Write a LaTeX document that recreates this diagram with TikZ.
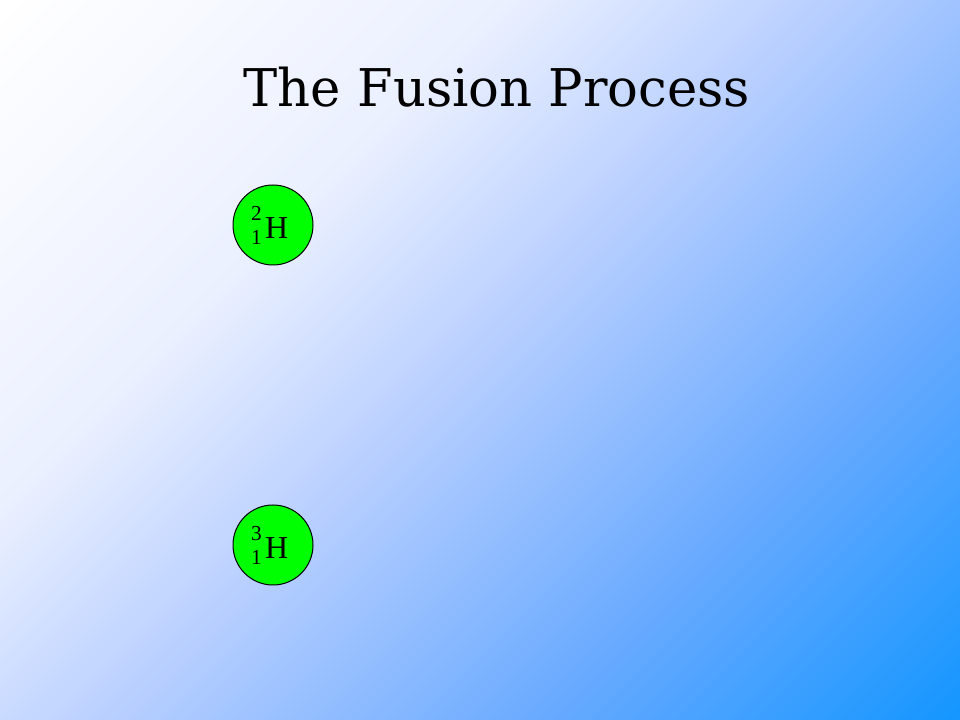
\documentclass[tikz,border=0pt]{standalone}
\usepackage{fontspec}
\setmainfont{Liberation Serif}
\newfontfamily\titlefont{DejaVu Serif}
\usepackage{tikz}
\usetikzlibrary{positioning}
\definecolor{slidewhite}{RGB}{255,255,255}
\definecolor{slidepale}{RGB}{235,240,255}
\definecolor{slidemid}{RGB}{182,206,255}
\definecolor{slidedeep}{RGB}{105,170,255}
\definecolor{slideblue}{RGB}{20,150,255}
\definecolor{nucleusgreen}{RGB}{0,255,0}
% diagonal slide background, white top left to blue bottom right
\pgfdeclareverticalshading{slidebg}{100bp}{color(0bp)=(slideblue); color(14.64bp)=(slideblue);
	color(32.32bp)=(slidedeep); color(50bp)=(slidemid); color(64.14bp)=(slidepale);
	color(85.36bp)=(slidewhite); color(100bp)=(slidewhite)}
% mass number over atomic number, then the symbol
\newcommand{\nuclide}[3]{{\fontsize{16pt}{16pt}\selectfont\raisebox{13.5pt}{\rlap{#1}}\raisebox{-4.5pt}{#2}}\kern2.5pt#3\kern5pt}

\begin{document}
\begin{tikzpicture}[
					x=0.75pt, y=0.75pt,
					nucleus/.style={
						circle, draw=black, line width=0.75pt, fill=nucleusgreen,
						minimum size=60pt, inner sep=0pt,
						font=\fontsize{24pt}{24pt}\selectfont
					},
					heading/.style={
						anchor=base, inner sep=0pt, xscale=0.985,
						font=\titlefont\fontsize{39pt}{39pt}\selectfont
					}
					]
					% Nền chuyển màu chéo
					\shade[shading=slidebg, shading angle=45] (0,0) rectangle (960,720);
					\useasboundingbox (0,0) rectangle (960,720);
					\node[heading] (title) at (497,613) {The Fusion Process};
					% Hai hạt nhân đồng vị hiđrô
					\node[nucleus] (deuterium) at (273,495) {\nuclide{2}{1}{H}};
					\node[nucleus] (tritium)   at (273,175) {\nuclide{3}{1}{H}};
				\end{tikzpicture}
\end{document}
